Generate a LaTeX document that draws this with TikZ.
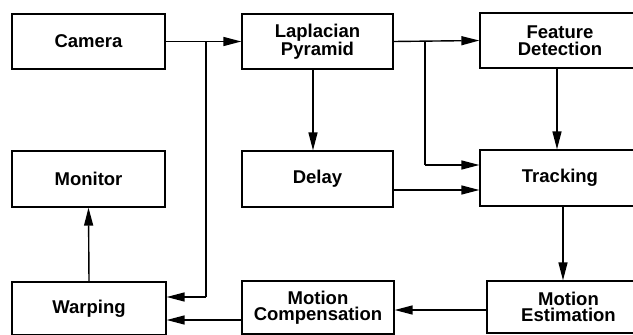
\documentclass[tikz,border=0pt]{standalone}
\usepackage{fontspec}
\setmainfont{Liberation Sans}
\usetikzlibrary{arrows.meta}
\begin{document}
\begin{tikzpicture}[x=1pt,y=-1pt,
  box/.style={draw, line width=1.3pt, rectangle, minimum height=55pt, align=center,
    font=\fontsize{18.5}{16.5}\selectfont\bfseries, inner sep=0pt},
  conn/.style={line width=1.4pt, -{Triangle[length=18pt,width=9pt]}},
  plain/.style={line width=1.4pt}]
\useasboundingbox (0,0) rectangle (633,335);
\clip (0,0) rectangle (633,335);
\node[box, minimum width=153pt] (cam) at (88.5,41.5) {Camera};
\node[box, minimum width=151pt] (lap) at (317.5,41.5) {Laplacian\\Pyramid};
\node[box, minimum width=160pt] (feat) at (560,40.5) {Feature\\Detection};
\node[box, minimum width=153pt, minimum height=56pt] (mon) at (88.5,179) {Monitor};
\node[box, minimum width=151pt, minimum height=56pt] (del) at (317.5,179) {Delay};
\node[box, minimum width=160pt, minimum height=56pt] (trk) at (560,178) {Tracking};
\node[box, minimum width=154pt, minimum height=53pt] (warp) at (89,308.5) {Warping};
\node[box, minimum width=152pt, minimum height=53pt] (mcomp) at (318,307.5) {Motion\\Compensation};
\node[box, minimum width=163pt, minimum height=52pt] (mest) at (568.5,307) {Motion\\Estimation};
\coordinate (j1) at (206,41.5);
\coordinate (j1b) at (206,297);
\coordinate (j2) at (425,41.5);
\coordinate (j2b) at (425,165);
% connectors
\draw[conn] (cam.east) -- (lap.west);
\draw[plain] (j1) -- (j1b);
\draw[conn] (j1b) -- (warp.east |- j1b);
\draw[conn] (lap.south -| 313,0) -- (del.north -| 313,0);
\draw[conn] (lap.east) -- (feat.west);
\draw[plain] (j2) -- (j2b);
\draw[conn] (j2b) -- (trk.west |- j2b);
\draw[conn] (del.east |- 0,190) -- (trk.west |- 0,190);
\draw[conn] (feat.south -| 557,0) -- (trk.north -| 557,0);
\draw[conn] (trk.south -| 563,0) -- (mest.north -| 563,0);
\draw[conn] (mest.west |- 0,310) -- (mcomp.east |- 0,310);
\draw[conn] (mcomp.west |- 0,320) -- (warp.east |- 0,320);
\draw[conn] (warp.north) -- (mon.south);
\end{tikzpicture}
\end{document}
